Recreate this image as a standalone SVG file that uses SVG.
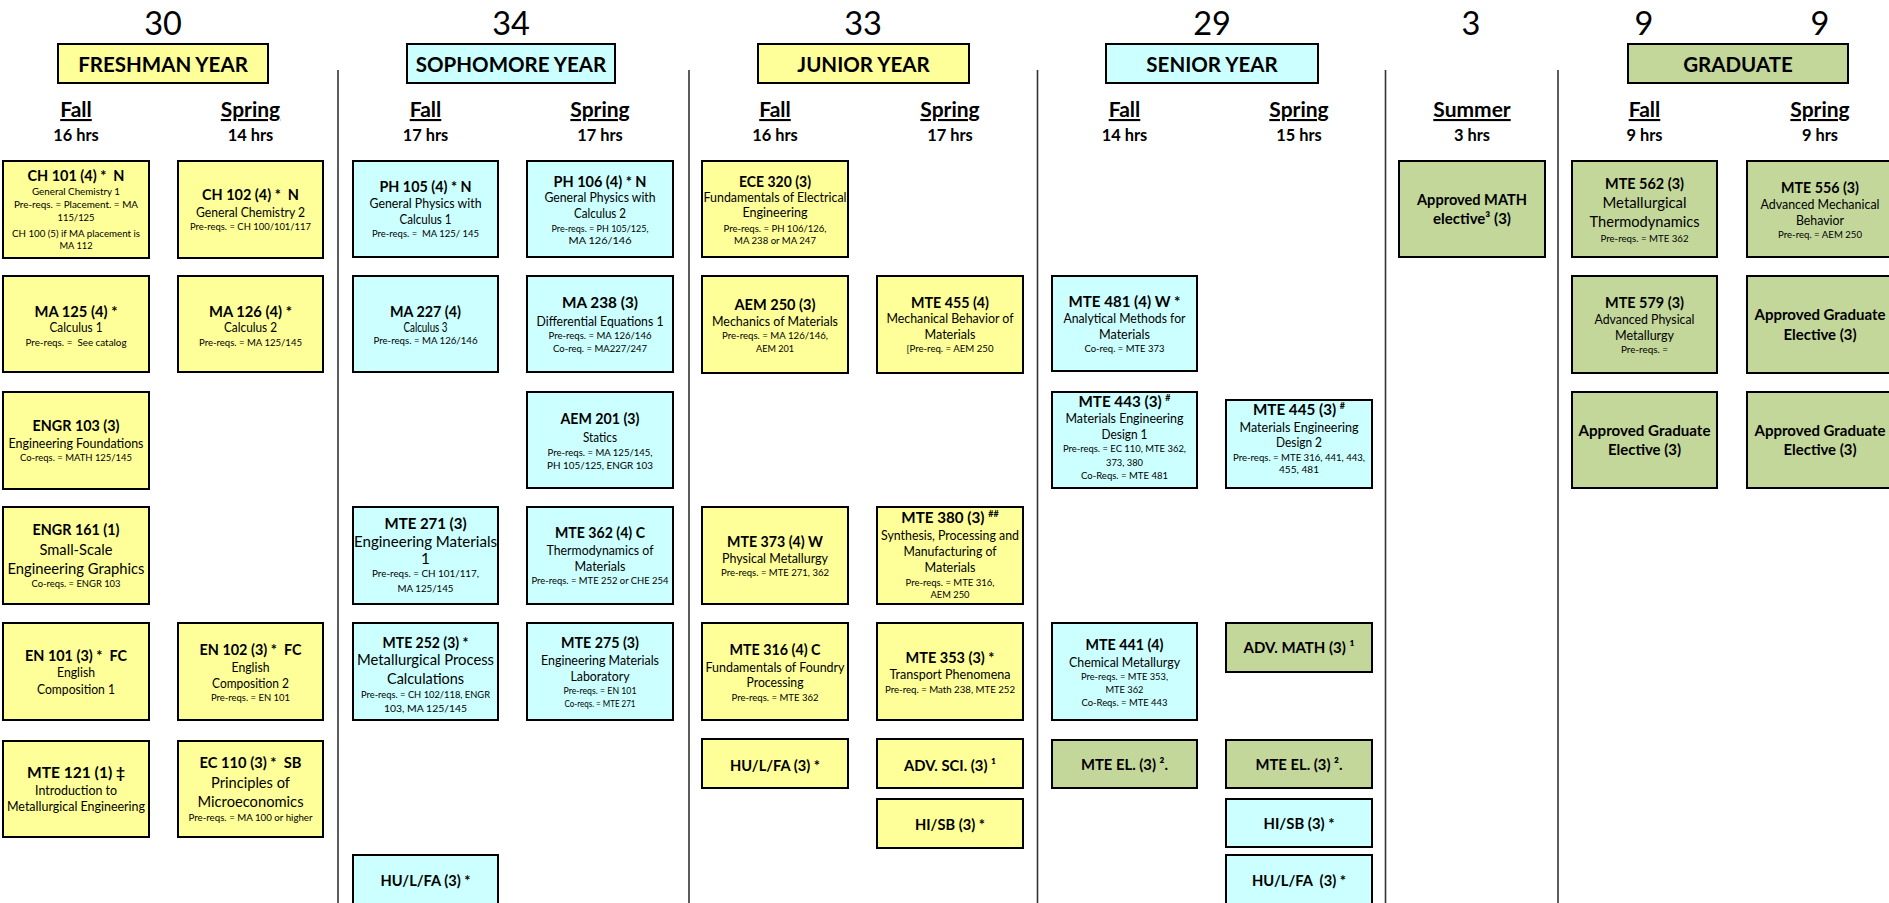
<svg xmlns="http://www.w3.org/2000/svg" width="1889" height="903" viewBox="0 0 1889 903">
<style>
text{font-family:Lato,"Liberation Sans",sans-serif;fill:#000;text-anchor:middle}
.y{fill:#FFFF99;stroke:#000;stroke-width:2}
.c{fill:#CCFFFF;stroke:#000;stroke-width:2}
.g{fill:#C4D79B;stroke:#000;stroke-width:2}
.t{font-weight:700;font-size:15.2px}
.s{font-size:12.8px}
.L{font-size:15.2px}
.p{font-size:10.4px}
.num{font-size:32.5px}
.yr{font-weight:700;font-size:20.5px}
.sem{font-weight:700;font-size:21px;text-decoration:underline}
.hrs{font-weight:700;font-size:16.4px}
.sup{font-size:9px}
.div{stroke:#333;stroke-width:1.6}
</style>
<rect width="1889" height="903" fill="#fff"/>

<g id="headers">
<text class="num" x="163" y="35">30</text>
<text class="num" x="511" y="35">34</text>
<text class="num" x="863" y="35">33</text>
<text class="num" x="1212" y="35">29</text>
<text class="num" x="1471" y="35">3</text>
<text class="num" x="1644" y="35">9</text>
<text class="num" x="1820" y="35">9</text>
<g id="yr-freshman"><rect class="y" x="58" y="44" width="210" height="39"/><text class="yr" x="163" y="71.5">FRESHMAN YEAR</text></g>
<g id="yr-sophomore"><rect class="c" x="407" y="44" width="208" height="39"/><text class="yr" x="511" y="71.5">SOPHOMORE YEAR</text></g>
<g id="yr-junior"><rect class="y" x="758" y="44" width="211" height="39"/><text class="yr" x="863.5" y="71.5">JUNIOR YEAR</text></g>
<g id="yr-senior"><rect class="c" x="1106" y="44" width="212" height="39"/><text class="yr" x="1212" y="71.5">SENIOR YEAR</text></g>
<g id="yr-graduate"><rect class="g" x="1628" y="44" width="220" height="39"/><text class="yr" x="1738" y="71.5">GRADUATE</text></g>
<text class="sem" x="76" y="117">Fall</text><text class="hrs" x="76" y="141">16 hrs</text>
<text class="sem" x="250.5" y="117">Spring</text><text class="hrs" x="250.5" y="141">14 hrs</text>
<text class="sem" x="425.5" y="117">Fall</text><text class="hrs" x="425.5" y="141">17 hrs</text>
<text class="sem" x="600" y="117">Spring</text><text class="hrs" x="600" y="141">17 hrs</text>
<text class="sem" x="775" y="117">Fall</text><text class="hrs" x="775" y="141">16 hrs</text>
<text class="sem" x="950" y="117">Spring</text><text class="hrs" x="950" y="141">17 hrs</text>
<text class="sem" x="1124.5" y="117">Fall</text><text class="hrs" x="1124.5" y="141">14 hrs</text>
<text class="sem" x="1299" y="117">Spring</text><text class="hrs" x="1299" y="141">15 hrs</text>
<text class="sem" x="1472" y="117">Summer</text><text class="hrs" x="1472" y="141">3 hrs</text>
<text class="sem" x="1644.5" y="117">Fall</text><text class="hrs" x="1644.5" y="141">9 hrs</text>
<text class="sem" x="1820" y="117">Spring</text><text class="hrs" x="1820" y="141">9 hrs</text>
</g>

<g id="dividers">
<line class="div" x1="338" y1="70" x2="338" y2="903"/>
<line class="div" x1="689" y1="70" x2="689" y2="903"/>
<line class="div" x1="1037.5" y1="70" x2="1037.5" y2="903"/>
<line class="div" x1="1385.5" y1="70" x2="1385.5" y2="903"/>
<line class="div" x1="1558" y1="70" x2="1558" y2="903"/>
</g>

<g id="connectors"/>

<!-- Freshman Fall -->
<g id="ch101"><rect class="y" x="3" y="161" width="146" height="97"/>
<text class="t" x="76" y="180.7" xml:space="preserve" textLength="97" lengthAdjust="spacingAndGlyphs">CH 101 (4) *  N</text>
<text class="p" x="76" y="195" textLength="88" lengthAdjust="spacingAndGlyphs">General Chemistry 1</text>
<text class="p" x="76" y="207.7" textLength="124" lengthAdjust="spacingAndGlyphs">Pre-reqs. = Placement. = MA</text>
<text class="p" x="76" y="221" textLength="37" lengthAdjust="spacingAndGlyphs">115/125</text>
<text class="p" x="76" y="236.7" textLength="128" lengthAdjust="spacingAndGlyphs">CH 100 (5) if MA placement is</text>
<text class="p" x="76" y="249" textLength="33" lengthAdjust="spacingAndGlyphs">MA 112</text></g>
<g id="ma125"><rect class="y" x="3" y="276" width="146" height="96"/>
<text class="t" x="76" y="316.7" textLength="83" lengthAdjust="spacingAndGlyphs">MA 125 (4) *</text>
<text class="s" x="76" y="332" textLength="53" lengthAdjust="spacingAndGlyphs">Calculus 1</text>
<text class="p" x="76" y="345.7" xml:space="preserve" textLength="101" lengthAdjust="spacingAndGlyphs">Pre-reqs. =  See catalog</text></g>
<g id="engr103"><rect class="y" x="3" y="392" width="146" height="97"/>
<text class="t" x="76" y="430.7" textLength="87" lengthAdjust="spacingAndGlyphs">ENGR 103 (3)</text>
<text class="s" x="76" y="447.7" textLength="135" lengthAdjust="spacingAndGlyphs">Engineering Foundations</text>
<text class="p" x="76" y="461" textLength="112" lengthAdjust="spacingAndGlyphs">Co-reqs. = MATH 125/145</text></g>
<g id="engr161"><rect class="y" x="3" y="507" width="146" height="97"/>
<text class="t" x="76" y="535" textLength="87" lengthAdjust="spacingAndGlyphs">ENGR 161 (1)</text>
<text class="L" x="76" y="555" textLength="73" lengthAdjust="spacingAndGlyphs">Small-Scale</text>
<text class="L" x="76" y="574" textLength="137" lengthAdjust="spacingAndGlyphs">Engineering Graphics</text>
<text class="p" x="76" y="586.7" textLength="89" lengthAdjust="spacingAndGlyphs">Co-reqs. = ENGR 103</text></g>
<g id="en101"><rect class="y" x="3" y="623" width="146" height="97"/>
<text class="t" x="76" y="660.7" xml:space="preserve" textLength="102" lengthAdjust="spacingAndGlyphs">EN 101 (3) *  FC</text>
<text class="s" x="76" y="677.3" textLength="38" lengthAdjust="spacingAndGlyphs">English</text>
<text class="s" x="76" y="694" textLength="78" lengthAdjust="spacingAndGlyphs">Composition 1</text></g>
<g id="mte121"><rect class="y" x="3" y="741" width="146" height="96"/>
<text class="t" x="76" y="778.3" textLength="98" lengthAdjust="spacingAndGlyphs">MTE 121 (1) ‡</text>
<text class="s" x="76" y="795" textLength="82" lengthAdjust="spacingAndGlyphs">Introduction to</text>
<text class="s" x="76" y="810.7" textLength="138" lengthAdjust="spacingAndGlyphs">Metallurgical Engineering</text></g>

<!-- Freshman Spring -->
<g id="ch102"><rect class="y" x="178" y="161" width="145" height="97"/>
<text class="t" x="250.5" y="200" xml:space="preserve" textLength="97" lengthAdjust="spacingAndGlyphs">CH 102 (4) *  N</text>
<text class="s" x="250.5" y="216.7" textLength="109" lengthAdjust="spacingAndGlyphs">General Chemistry 2</text>
<text class="p" x="250.5" y="230" textLength="121" lengthAdjust="spacingAndGlyphs">Pre-reqs. = CH 100/101/117</text></g>
<g id="ma126"><rect class="y" x="178" y="276" width="145" height="96"/>
<text class="t" x="250.5" y="316.7" textLength="83" lengthAdjust="spacingAndGlyphs">MA 126 (4) *</text>
<text class="s" x="250.5" y="332" textLength="53" lengthAdjust="spacingAndGlyphs">Calculus 2</text>
<text class="p" x="250.5" y="345.7" textLength="103" lengthAdjust="spacingAndGlyphs">Pre-reqs. = MA 125/145</text></g>
<g id="en102"><rect class="y" x="178" y="623" width="145" height="97"/>
<text class="t" x="250.5" y="655" xml:space="preserve" textLength="102" lengthAdjust="spacingAndGlyphs">EN 102 (3) *  FC</text>
<text class="s" x="250.5" y="671.7" textLength="38" lengthAdjust="spacingAndGlyphs">English</text>
<text class="s" x="250.5" y="688.3" textLength="77" lengthAdjust="spacingAndGlyphs">Composition 2</text>
<text class="p" x="250.5" y="701" textLength="79" lengthAdjust="spacingAndGlyphs">Pre-reqs. = EN 101</text></g>
<g id="ec110"><rect class="y" x="178" y="741" width="145" height="96"/>
<text class="t" x="250.5" y="768.3" xml:space="preserve" textLength="102" lengthAdjust="spacingAndGlyphs">EC 110 (3) *  SB</text>
<text class="L" x="250.5" y="787.7" textLength="79" lengthAdjust="spacingAndGlyphs">Principles of</text>
<text class="L" x="250.5" y="806.7" textLength="106" lengthAdjust="spacingAndGlyphs">Microeconomics</text>
<text class="p" x="250.5" y="821" textLength="124" lengthAdjust="spacingAndGlyphs">Pre-reqs. = MA 100 or higher</text></g>

<!-- Sophomore Fall -->
<g id="ph105"><rect class="c" x="353" y="161" width="145" height="96"/>
<text class="t" x="425.5" y="192.3" textLength="92" lengthAdjust="spacingAndGlyphs">PH 105 (4) * N</text>
<text class="s" x="425.5" y="208.3" textLength="112" lengthAdjust="spacingAndGlyphs">General Physics with</text>
<text class="s" x="425.5" y="224" textLength="52" lengthAdjust="spacingAndGlyphs">Calculus 1</text>
<text class="p" x="425.5" y="237.3" xml:space="preserve" textLength="107" lengthAdjust="spacingAndGlyphs">Pre-reqs. =  MA 125/ 145</text></g>
<g id="ma227"><rect class="c" x="353" y="276" width="145" height="96"/>
<text class="t" x="425.5" y="316.7" textLength="71" lengthAdjust="spacingAndGlyphs">MA 227 (4)</text>
<text class="s" x="425.5" y="332.3" textLength="44" lengthAdjust="spacingAndGlyphs">Calculus 3</text>
<text class="p" x="425.5" y="344" textLength="104" lengthAdjust="spacingAndGlyphs">Pre-reqs. = MA 126/146</text></g>
<g id="mte271"><rect class="c" x="353" y="507" width="145" height="97"/>
<text class="t" x="425.5" y="529.3" textLength="82" lengthAdjust="spacingAndGlyphs">MTE 271 (3)</text>
<text class="L" x="425.5" y="546.7" textLength="143" lengthAdjust="spacingAndGlyphs">Engineering Materials</text>
<text class="L" x="425.5" y="564">1</text>
<text class="p" x="425.5" y="577.3" textLength="107" lengthAdjust="spacingAndGlyphs">Pre-reqs. = CH 101/117,</text>
<text class="p" x="425.5" y="591.7" textLength="56" lengthAdjust="spacingAndGlyphs">MA 125/145</text></g>
<g id="mte252"><rect class="c" x="353" y="623" width="145" height="97"/>
<text class="t" x="425.5" y="648.3" textLength="86" lengthAdjust="spacingAndGlyphs">MTE 252 (3) *</text>
<text class="L" x="425.5" y="665" textLength="137" lengthAdjust="spacingAndGlyphs">Metallurgical Process</text>
<text class="L" x="425.5" y="684" textLength="77" lengthAdjust="spacingAndGlyphs">Calculations</text>
<text class="p" x="425.5" y="697.7" textLength="129" lengthAdjust="spacingAndGlyphs">Pre-reqs. = CH 102/118, ENGR</text>
<text class="p" x="425.5" y="711.7" textLength="83" lengthAdjust="spacingAndGlyphs">103, MA 125/145</text></g>
<g id="hulfa-soph"><rect class="c" x="353" y="855" width="145" height="49"/>
<text class="t" x="425.5" y="886" textLength="90" lengthAdjust="spacingAndGlyphs">HU/L/FA (3) *</text></g>

<!-- Sophomore Spring -->
<g id="ph106"><rect class="c" x="527" y="161" width="146" height="96"/>
<text class="t" x="600" y="186.7" textLength="93" lengthAdjust="spacingAndGlyphs">PH 106 (4) * N</text>
<text class="s" x="600" y="202.3" textLength="111" lengthAdjust="spacingAndGlyphs">General Physics with</text>
<text class="s" x="600" y="218.3" textLength="52" lengthAdjust="spacingAndGlyphs">Calculus 2</text>
<text class="p" x="600" y="231.7" textLength="97" lengthAdjust="spacingAndGlyphs">Pre-reqs. = PH 105/125,</text>
<text class="p" x="600" y="244.3" textLength="63" lengthAdjust="spacingAndGlyphs">MA 126/146</text></g>
<g id="ma238"><rect class="c" x="527" y="276" width="146" height="96"/>
<text class="t" x="600" y="308.3" textLength="76" lengthAdjust="spacingAndGlyphs">MA 238 (3)</text>
<text class="s" x="600" y="325.7" textLength="127" lengthAdjust="spacingAndGlyphs">Differential Equations 1</text>
<text class="p" x="600" y="339" textLength="103" lengthAdjust="spacingAndGlyphs">Pre-reqs. = MA 126/146</text>
<text class="p" x="600" y="351.7" textLength="94" lengthAdjust="spacingAndGlyphs">Co-req. = MA227/247</text></g>
<g id="aem201"><rect class="c" x="527" y="392" width="146" height="96"/>
<text class="t" x="600" y="424.3" textLength="79" lengthAdjust="spacingAndGlyphs">AEM 201 (3)</text>
<text class="s" x="600" y="441.7" style="font-size:13.4px" textLength="34" lengthAdjust="spacingAndGlyphs">Statics</text>
<text class="p" x="600" y="455.7" textLength="105" lengthAdjust="spacingAndGlyphs">Pre-reqs. = MA 125/145,</text>
<text class="p" x="600" y="469" textLength="106" lengthAdjust="spacingAndGlyphs">PH 105/125, ENGR 103</text></g>
<g id="mte362"><rect class="c" x="527" y="507" width="146" height="97"/>
<text class="t" x="600" y="538.3" textLength="90" lengthAdjust="spacingAndGlyphs">MTE 362 (4) C</text>
<text class="s" x="600" y="555" textLength="107" lengthAdjust="spacingAndGlyphs">Thermodynamics of</text>
<text class="s" x="600" y="571" textLength="51" lengthAdjust="spacingAndGlyphs">Materials</text>
<text class="p" x="600" y="584.3" textLength="137" lengthAdjust="spacingAndGlyphs">Pre-reqs. = MTE 252 or CHE 254</text></g>
<g id="mte275"><rect class="c" x="527" y="623" width="146" height="97"/>
<text class="t" x="600" y="648.3" textLength="78" lengthAdjust="spacingAndGlyphs">MTE 275 (3)</text>
<text class="s" x="600" y="665" textLength="118" lengthAdjust="spacingAndGlyphs">Engineering Materials</text>
<text class="s" x="600" y="680.7" textLength="59" lengthAdjust="spacingAndGlyphs">Laboratory</text>
<text class="p" x="600" y="694" textLength="73" lengthAdjust="spacingAndGlyphs">Pre-reqs. = EN 101</text>
<text class="p" x="600" y="707.3" textLength="71" lengthAdjust="spacingAndGlyphs">Co-reqs. = MTE 271</text></g>

<!-- Junior Fall -->
<g id="ece320"><rect class="y" x="702" y="161" width="146" height="96"/>
<text class="t" x="775" y="186.7" textLength="72" lengthAdjust="spacingAndGlyphs">ECE 320 (3)</text>
<text class="s" x="775" y="202.3" textLength="143" lengthAdjust="spacingAndGlyphs">Fundamentals of Electrical</text>
<text class="s" x="775" y="217.3" textLength="65" lengthAdjust="spacingAndGlyphs">Engineering</text>
<text class="p" x="775" y="231.7" textLength="103" lengthAdjust="spacingAndGlyphs">Pre-reqs. = PH 106/126,</text>
<text class="p" x="775" y="244.3" textLength="82" lengthAdjust="spacingAndGlyphs">MA 238 or MA 247</text></g>
<g id="aem250"><rect class="y" x="702" y="276" width="146" height="97"/>
<text class="t" x="775" y="310" textLength="81" lengthAdjust="spacingAndGlyphs">AEM 250 (3)</text>
<text class="s" x="775" y="325.7" textLength="126" lengthAdjust="spacingAndGlyphs">Mechanics of Materials</text>
<text class="p" x="775" y="339" textLength="106" lengthAdjust="spacingAndGlyphs">Pre-reqs. = MA 126/146,</text>
<text class="p" x="775" y="351.7" textLength="38" lengthAdjust="spacingAndGlyphs">AEM 201</text></g>
<g id="mte373"><rect class="y" x="702" y="507" width="146" height="97"/>
<text class="t" x="775" y="546.7" textLength="96" lengthAdjust="spacingAndGlyphs">MTE 373 (4) W</text>
<text class="s" x="775" y="562.7" textLength="106" lengthAdjust="spacingAndGlyphs">Physical Metallurgy</text>
<text class="p" x="775" y="576" textLength="108" lengthAdjust="spacingAndGlyphs">Pre-reqs. = MTE 271, 362</text></g>
<g id="mte316"><rect class="y" x="702" y="623" width="146" height="97"/>
<text class="t" x="775" y="655" textLength="91" lengthAdjust="spacingAndGlyphs">MTE 316 (4) C</text>
<text class="s" x="775" y="671.7" textLength="139" lengthAdjust="spacingAndGlyphs">Fundamentals of Foundry</text>
<text class="s" x="775" y="687.3" textLength="57" lengthAdjust="spacingAndGlyphs">Processing</text>
<text class="p" x="775" y="700.7" textLength="87" lengthAdjust="spacingAndGlyphs">Pre-reqs. = MTE 362</text></g>
<g id="hulfa-jr"><rect class="y" x="702" y="739" width="146" height="49"/>
<text class="t" x="775" y="770.7" textLength="90" lengthAdjust="spacingAndGlyphs">HU/L/FA (3) *</text></g>

<!-- Junior Spring -->
<g id="mte455"><rect class="y" x="877" y="276" width="146" height="97"/>
<text class="t" x="950" y="307.7" textLength="78" lengthAdjust="spacingAndGlyphs">MTE 455 (4)</text>
<text class="s" x="950" y="323.3" textLength="127" lengthAdjust="spacingAndGlyphs">Mechanical Behavior of</text>
<text class="s" x="950" y="339" textLength="51" lengthAdjust="spacingAndGlyphs">Materials</text>
<text class="p" x="950" y="352.3" textLength="87" lengthAdjust="spacingAndGlyphs">[Pre-req. = AEM 250</text></g>
<g id="mte380"><rect class="y" x="877" y="507" width="146" height="97"/>
<text class="t" x="950" y="523.3">MTE 380 (3) <tspan class="sup" dy="-6">##</tspan></text>
<text class="s" x="950" y="540" textLength="138" lengthAdjust="spacingAndGlyphs">Synthesis, Processing and</text>
<text class="s" x="950" y="555.7" textLength="93" lengthAdjust="spacingAndGlyphs">Manufacturing of</text>
<text class="s" x="950" y="572.3" textLength="51" lengthAdjust="spacingAndGlyphs">Materials</text>
<text class="p" x="950" y="585.7" textLength="89" lengthAdjust="spacingAndGlyphs">Pre-reqs. = MTE 316,</text>
<text class="p" x="950" y="598.3" textLength="39" lengthAdjust="spacingAndGlyphs">AEM 250</text></g>
<g id="mte353"><rect class="y" x="877" y="623" width="146" height="97"/>
<text class="t" x="950" y="662.7" textLength="89" lengthAdjust="spacingAndGlyphs">MTE 353 (3) *</text>
<text class="s" x="950" y="679.3" textLength="121" lengthAdjust="spacingAndGlyphs">Transport Phenomena</text>
<text class="p" x="950" y="692.7" textLength="130" lengthAdjust="spacingAndGlyphs">Pre-req. = Math 238, MTE 252</text></g>
<g id="advsci"><rect class="y" x="877" y="739" width="146" height="49"/>
<text class="t" x="950" y="770.7" textLength="92" lengthAdjust="spacingAndGlyphs">ADV. SCI. (3) ¹</text></g>
<g id="hisb-jr"><rect class="y" x="877" y="799" width="146" height="49"/>
<text class="t" x="950" y="830" textLength="70" lengthAdjust="spacingAndGlyphs">HI/SB (3) *</text></g>

<!-- Senior Fall -->
<g id="mte481"><rect class="c" x="1052" y="276" width="145" height="95"/>
<text class="t" x="1124.5" y="307.3" textLength="112" lengthAdjust="spacingAndGlyphs">MTE 481 (4) W *</text>
<text class="s" x="1124.5" y="323.3" textLength="122" lengthAdjust="spacingAndGlyphs">Analytical Methods for</text>
<text class="s" x="1124.5" y="339" textLength="51" lengthAdjust="spacingAndGlyphs">Materials</text>
<text class="p" x="1124.5" y="352.3" textLength="80" lengthAdjust="spacingAndGlyphs">Co-req. = MTE 373</text></g>
<g id="mte443"><rect class="c" x="1052" y="392" width="145" height="96"/>
<text class="t" x="1124.5" y="406.7">MTE 443 (3) <tspan class="sup" dy="-6">#</tspan></text>
<text class="s" x="1124.5" y="423.3" textLength="118" lengthAdjust="spacingAndGlyphs">Materials Engineering</text>
<text class="s" x="1124.5" y="439" textLength="46" lengthAdjust="spacingAndGlyphs">Design 1</text>
<text class="p" x="1124.5" y="452.3" textLength="123" lengthAdjust="spacingAndGlyphs">Pre-reqs. = EC 110, MTE 362,</text>
<text class="p" x="1124.5" y="465.7" textLength="37" lengthAdjust="spacingAndGlyphs">373, 380</text>
<text class="p" x="1124.5" y="479" textLength="87" lengthAdjust="spacingAndGlyphs">Co-Reqs. = MTE 481</text></g>
<g id="mte441"><rect class="c" x="1052" y="623" width="145" height="97"/>
<text class="t" x="1124.5" y="650" textLength="78" lengthAdjust="spacingAndGlyphs">MTE 441 (4)</text>
<text class="s" x="1124.5" y="666.7" textLength="111" lengthAdjust="spacingAndGlyphs">Chemical Metallurgy</text>
<text class="p" x="1124.5" y="680" textLength="87" lengthAdjust="spacingAndGlyphs">Pre-reqs. = MTE 353,</text>
<text class="p" x="1124.5" y="692.7" textLength="38" lengthAdjust="spacingAndGlyphs">MTE 362</text>
<text class="p" x="1124.5" y="706" textLength="86" lengthAdjust="spacingAndGlyphs">Co-Reqs. = MTE 443</text></g>
<g id="mteel-fall"><rect class="g" x="1052" y="740" width="145" height="48"/>
<text class="t" x="1124.5" y="770" textLength="87" lengthAdjust="spacingAndGlyphs">MTE EL. (3) ².</text></g>

<!-- Senior Spring -->
<g id="mte445"><rect class="c" x="1226" y="400" width="146" height="88"/>
<text class="t" x="1299" y="415">MTE 445 (3) <tspan class="sup" dy="-6">#</tspan></text>
<text class="s" x="1299" y="431.7" textLength="119" lengthAdjust="spacingAndGlyphs">Materials Engineering</text>
<text class="s" x="1299" y="447.3" textLength="46" lengthAdjust="spacingAndGlyphs">Design 2</text>
<text class="p" x="1299" y="460.7" textLength="132" lengthAdjust="spacingAndGlyphs">Pre-reqs. = MTE 316, 441, 443,</text>
<text class="p" x="1299" y="473.3" textLength="40" lengthAdjust="spacingAndGlyphs">455, 481</text></g>
<g id="advmath"><rect class="g" x="1226" y="623" width="146" height="49"/>
<text class="t" x="1299" y="653.3" textLength="111" lengthAdjust="spacingAndGlyphs">ADV. MATH (3) ¹</text></g>
<g id="mteel-spring"><rect class="g" x="1226" y="740" width="146" height="48"/>
<text class="t" x="1299" y="770" textLength="87" lengthAdjust="spacingAndGlyphs">MTE EL. (3) ².</text></g>
<g id="hisb-sr"><rect class="c" x="1226" y="799" width="146" height="48"/>
<text class="t" x="1299" y="829.3" textLength="71" lengthAdjust="spacingAndGlyphs">HI/SB (3) *</text></g>
<g id="hulfa-sr"><rect class="c" x="1226" y="855" width="146" height="49"/>
<text class="t" x="1299" y="886" xml:space="preserve" textLength="94" lengthAdjust="spacingAndGlyphs">HU/L/FA  (3) *</text></g>

<!-- Summer -->
<g id="mathelective"><rect class="g" x="1399" y="161" width="146" height="96"/>
<text class="t" x="1472" y="205" textLength="110" lengthAdjust="spacingAndGlyphs">Approved MATH</text>
<text class="t" x="1472" y="224" textLength="78" lengthAdjust="spacingAndGlyphs">elective³ (3)</text></g>

<!-- Graduate Fall -->
<g id="mte562"><rect class="g" x="1572" y="161" width="145" height="96"/>
<text class="t" x="1644.5" y="189.3" textLength="79" lengthAdjust="spacingAndGlyphs">MTE 562 (3)</text>
<text class="L" x="1644.5" y="208.3" textLength="84" lengthAdjust="spacingAndGlyphs">Metallurgical</text>
<text class="L" x="1644.5" y="227.3" textLength="110" lengthAdjust="spacingAndGlyphs">Thermodynamics</text>
<text class="p" x="1644.5" y="241.7" textLength="88" lengthAdjust="spacingAndGlyphs">Pre-reqs. = MTE 362</text></g>
<g id="mte579"><rect class="g" x="1572" y="276" width="145" height="97"/>
<text class="t" x="1644.5" y="308.3" textLength="79" lengthAdjust="spacingAndGlyphs">MTE 579 (3)</text>
<text class="s" x="1644.5" y="324" textLength="100" lengthAdjust="spacingAndGlyphs">Advanced Physical</text>
<text class="s" x="1644.5" y="340" textLength="59" lengthAdjust="spacingAndGlyphs">Metallurgy</text>
<text class="p" x="1644.5" y="353.3" textLength="47" lengthAdjust="spacingAndGlyphs">Pre-reqs. =</text></g>
<g id="gradel-fall"><rect class="g" x="1572" y="392" width="145" height="96"/>
<text class="t" x="1644.5" y="436" textLength="132" lengthAdjust="spacingAndGlyphs">Approved Graduate</text>
<text class="t" x="1644.5" y="455" textLength="73" lengthAdjust="spacingAndGlyphs">Elective (3)</text></g>

<!-- Graduate Spring -->
<g id="mte556"><rect class="g" x="1747" y="161" width="146" height="96"/>
<text class="t" x="1820" y="192.7" textLength="78" lengthAdjust="spacingAndGlyphs">MTE 556 (3)</text>
<text class="s" x="1820" y="209" textLength="119" lengthAdjust="spacingAndGlyphs">Advanced Mechanical</text>
<text class="s" x="1820" y="225" textLength="48" lengthAdjust="spacingAndGlyphs">Behavior</text>
<text class="p" x="1820" y="237.7" textLength="84" lengthAdjust="spacingAndGlyphs">Pre-req. = AEM 250</text></g>
<g id="gradel-spring1"><rect class="g" x="1747" y="276" width="146" height="97"/>
<text class="t" x="1820" y="320" textLength="131" lengthAdjust="spacingAndGlyphs">Approved Graduate</text>
<text class="t" x="1820" y="340" textLength="73" lengthAdjust="spacingAndGlyphs">Elective (3)</text></g>
<g id="gradel-spring2"><rect class="g" x="1747" y="392" width="146" height="96"/>
<text class="t" x="1820" y="436" textLength="131" lengthAdjust="spacingAndGlyphs">Approved Graduate</text>
<text class="t" x="1820" y="455" textLength="73" lengthAdjust="spacingAndGlyphs">Elective (3)</text></g>
</svg>
